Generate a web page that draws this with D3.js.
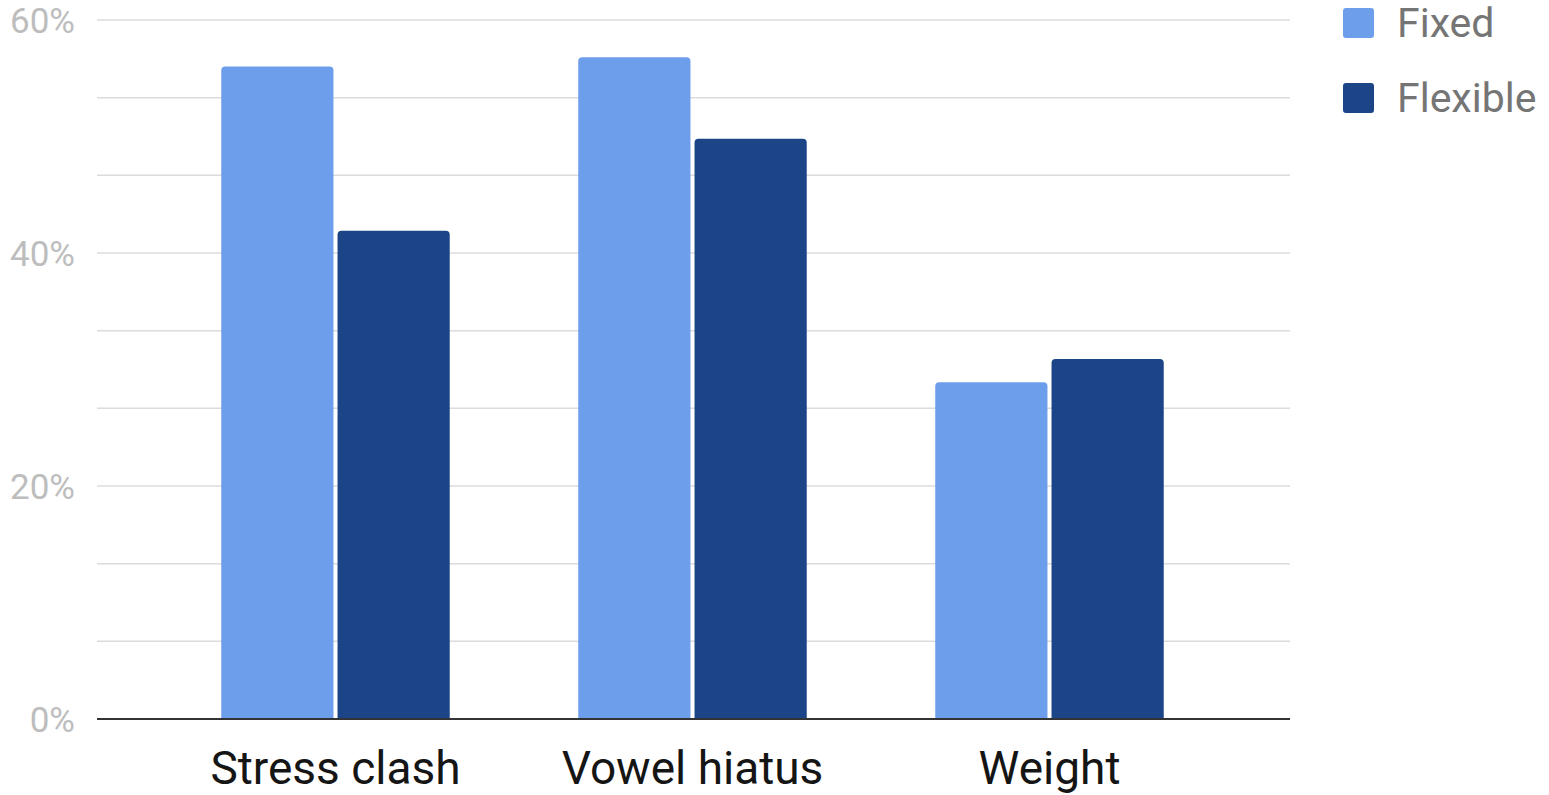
<!DOCTYPE html>
<html>
<head>
<meta charset="utf-8">
<script src="https://cdn.jsdelivr.net/npm/d3@7"></script>
<style>
  html, body { margin: 0; padding: 0; background: #fff; }
  svg { display: block; font-family: Roboto, "Noto Sans", sans-serif; }
</style>
</head>
<body>
<svg id="chart" width="1549" height="795"></svg>
<script>
const categories = ["Stress clash", "Vowel hiatus", "Weight"];
const seriesNames = ["Fixed", "Flexible"];
const fixedValues = [56, 56.8, 28.9];
const flexibleValues = [41.9, 49.8, 30.9];
const yTickValues = [0, 20, 40, 60];
const yGridValues = [0, 20/3, 40/3, 20, 80/3, 100/3, 40, 140/3, 160/3, 60];
const colors = ["#6d9eeb", "#1c4587"];

const data = categories.map((c, i) => ({ category: c, values: [fixedValues[i], flexibleValues[i]] }));

const svg = d3.select("#chart");
const plotLeft = 97, plotRight = 1290, plotTop = 20, plotBottom = 719;

const y = d3.scaleLinear().domain([0, 60]).range([plotBottom, plotTop]);
const x0 = d3.scaleBand().domain(categories).range([157, 1228]).paddingInner(0.36).paddingOuter(0.18);
const x1 = d3.scaleBand().domain(seriesNames).range([0, x0.bandwidth()]).paddingInner(0.035);

// gridlines
svg.append("g").selectAll("line").data(yGridValues.filter(v => v > 0)).join("line")
  .attr("x1", plotLeft).attr("x2", plotRight)
  .attr("y1", d => y(d)).attr("y2", d => y(d))
  .attr("stroke", "#dcdcdc").attr("stroke-width", 1.5);

// y-axis labels
const yAxis = d3.axisLeft(y).tickValues(yTickValues).tickFormat(d => d + "%").tickSize(0).tickPadding(0);
const gy = svg.append("g").attr("transform", `translate(75,0)`).call(yAxis);
gy.select(".domain").remove();
gy.selectAll("text").attr("fill", "#bdbdbd").style("font-size", "35px").style("font-family", "Roboto, sans-serif").attr("dy", "0.35em");

// bars with rounded tops
function barPath(x, yTop, w, h, r) {
  r = Math.min(r, h, w / 2);
  return `M${x},${yTop + h}V${yTop + r}Q${x},${yTop} ${x + r},${yTop}H${x + w - r}Q${x + w},${yTop} ${x + w},${yTop + r}V${yTop + h}Z`;
}
const groups = svg.append("g").selectAll("g").data(data).join("g")
  .attr("transform", d => `translate(${x0(d.category)},0)`);
groups.selectAll("path").data(d => d.values.map((v, i) => ({ name: seriesNames[i], value: v, i })))
  .join("path")
  .attr("d", d => barPath(x1(d.name), y(d.value), x1.bandwidth(), plotBottom - y(d.value), 4))
  .attr("fill", d => colors[d.i]);

// baseline
svg.append("line").attr("x1", plotLeft).attr("x2", plotRight)
  .attr("y1", y(0)).attr("y2", y(0)).attr("stroke", "#333").attr("stroke-width", 2);

// x-axis labels
const xAxis = d3.axisBottom(x0).tickSize(0).tickPadding(0);
const gx = svg.append("g").attr("transform", `translate(0,784)`).call(xAxis);
gx.select(".domain").remove();
gx.selectAll("text").attr("fill", "#151515").attr("dy", 0).attr("y", 0)
  .style("font-size", "46px").style("font-family", "Roboto, sans-serif");

// legend
const legend = svg.append("g").selectAll("g").data(seriesNames).join("g")
  .attr("transform", (d, i) => `translate(1343,${8 + i * 75})`);
legend.append("rect").attr("width", 31).attr("height", 30).attr("rx", 3).attr("fill", (d, i) => colors[i]);
legend.append("text").attr("x", 54).attr("y", 29).text(d => d)
  .attr("fill", "#757575").style("font-size", "41px");
</script>
</body>
</html>
